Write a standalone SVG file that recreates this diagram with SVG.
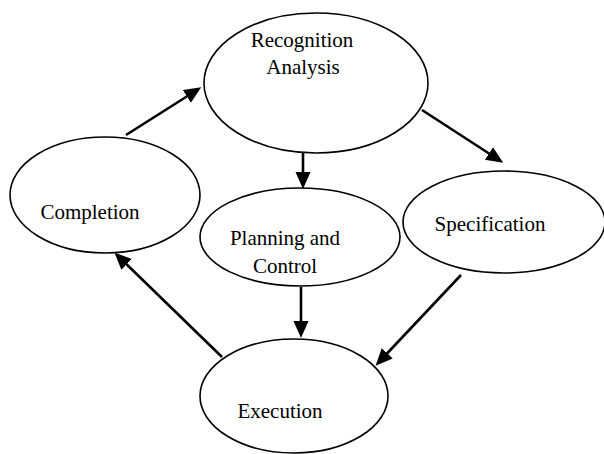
<svg xmlns="http://www.w3.org/2000/svg" width="604" height="454" viewBox="0 0 604 454">
<defs>
<style>
.node ellipse{fill:#fff;stroke:#000;stroke-width:1.6}
.node text{font-family:"Liberation Serif","Times New Roman",serif;font-size:21px;fill:#000;text-anchor:middle}
.conn line{stroke:#000;stroke-width:2.6}
</style>
<marker id="ah" markerUnits="userSpaceOnUse" markerWidth="18" markerHeight="16" refX="12" refY="7.5" orient="auto">
<path d="M0,0 L17,7.5 L0,15 Z" fill="#000"/>
</marker>
</defs>
<rect width="604" height="454" fill="#fff"/>
<g id="recognition" class="node">
<ellipse cx="316" cy="83" rx="112" ry="70"/>
<text x="302" y="47">Recognition</text>
<text x="303" y="74">Analysis</text>
</g>
<g id="completion" class="node">
<ellipse cx="105" cy="195" rx="95" ry="58"/>
<text x="90" y="219">Completion</text>
</g>
<g id="specification" class="node">
<ellipse cx="504" cy="222" rx="101" ry="51"/>
<text x="490" y="231">Specification</text>
</g>
<g id="planning" class="node">
<ellipse cx="300" cy="237" rx="100" ry="49"/>
<text x="285" y="245">Planning and</text>
<text x="285" y="273">Control</text>
</g>
<g id="execution" class="node">
<ellipse cx="294" cy="396" rx="94" ry="57"/>
<text x="280" y="418">Execution</text>
</g>
<g id="connectors" class="conn">
<line x1="126" y1="135" x2="197" y2="90" marker-end="url(#ah)"/>
<line x1="422" y1="110" x2="499" y2="160" marker-end="url(#ah)"/>
<line x1="303" y1="153" x2="303" y2="184" marker-end="url(#ah)"/>
<line x1="301" y1="287" x2="301" y2="333" marker-end="url(#ah)"/>
<line x1="461" y1="275" x2="379" y2="362" marker-end="url(#ah)"/>
<line x1="222" y1="357" x2="118" y2="256" marker-end="url(#ah)"/>
</g>
</svg>
